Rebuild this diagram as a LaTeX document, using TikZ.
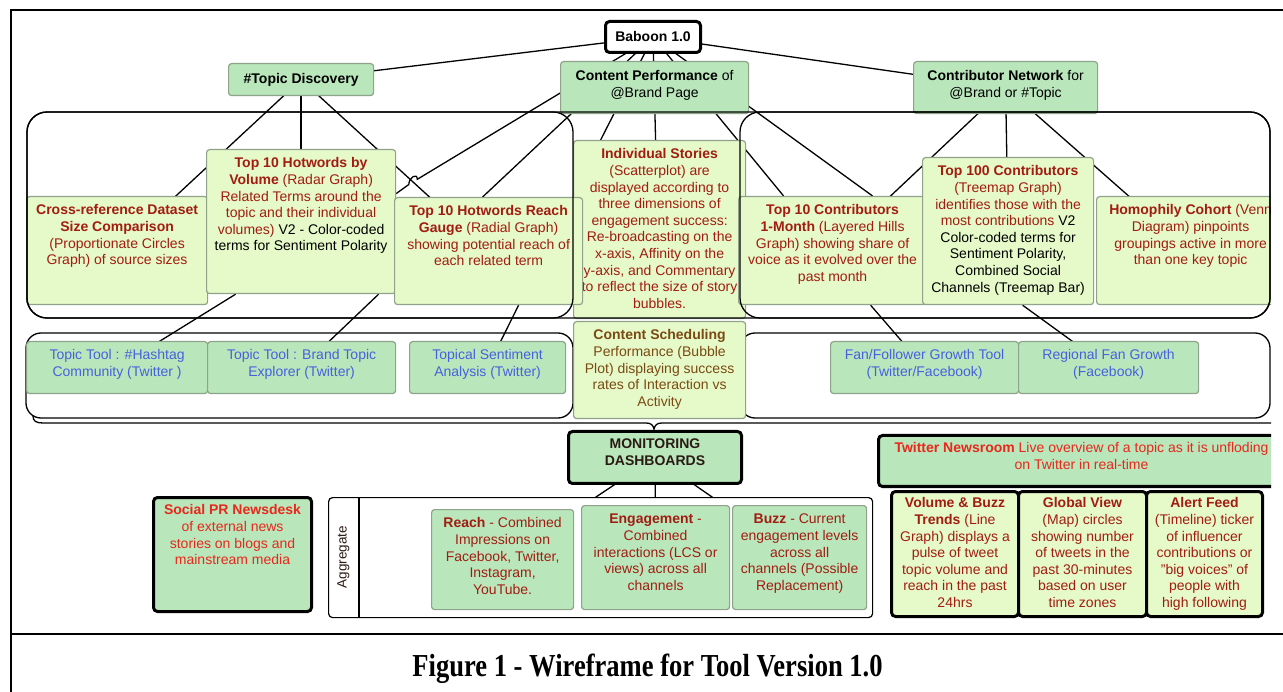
\documentclass[tikz,border=0pt]{standalone}
\usepackage{fontspec}
\setmainfont{Liberation Sans}
\newfontfamily\capfont{Liberation Serif}
\usepackage{graphicx}
\definecolor{dred}{HTML}{A11D12}
\definecolor{bred}{HTML}{E8281C}
\definecolor{tblue}{HTML}{4661DE}
\definecolor{brn}{HTML}{7A4A12}
\definecolor{mgreen}{HTML}{B9E6BB}
\definecolor{lgreen}{HTML}{E6F9C9}
\definecolor{bgray}{HTML}{8FA38A}
\definecolor{mdark}{HTML}{2A1A14}
\pgfdeclarelayer{behind}
\pgfdeclarelayer{front}
\pgfsetlayers{behind,main,front}
\tikzset{
  conn/.style={draw=black, line width=1.3pt},
  gbox/.style={draw=bgray, fill=mgreen, line width=1.2pt, rounded corners=3pt, inner sep=0pt, anchor=north west},
  lbox/.style={draw=bgray, fill=lgreen, line width=1.2pt, rounded corners=3pt, inner sep=0pt, anchor=north west},
  kbox/.style={draw=black, line width=3pt, rounded corners=4pt, inner sep=0pt, anchor=north west},
  aggbox/.style={draw=black, fill=white, line width=1.2pt, rounded corners=4pt, inner sep=0pt, anchor=north west},
  txt/.style={align=center, inner sep=0pt, anchor=north, font=\fontsize{14}{16.6}\selectfont},
  ctxt/.style={align=center, inner sep=0pt, font=\fontsize{14}{16.6}\selectfont},
  groupline/.style={draw=black, line width=1.3pt, rounded corners=20pt},
  groupline2/.style={draw=black, line width=1.3pt, rounded corners=15pt},
  braceline/.style={draw=black, line width=1.3pt},
  frameline/.style={draw=black, line width=2pt},
}
\newcommand\boxat[6]{\node[#1, minimum width={#5pt-#3pt}, minimum height={#6pt-#4pt}] (#2) at (#3,#4) {};}
\begin{document}
\begin{tikzpicture}[x=1pt,y=-1pt]
\useasboundingbox (0,0) rectangle (1283,692);
\begin{scope}
\clip (0,0) rectangle (1271,692);
% ---------- row 0
\boxat{kbox,fill=white}{baboon}{604}{20}{699}{51}
\node[ctxt,font=\fontsize{14}{16.6}\selectfont\bfseries] (baboonT) at (baboon.center) {Baboon 1.0};
\boxat{gbox}{td}{228}{63}{373}{95}
\node[ctxt] (tdT) at (td.center) {\textbf{\#Topic Discovery}};
% ---------- row 1
\boxat{lbox}{cross}{26}{196}{207}{304}
\node[txt,text=dred] (crossT) at ([yshift=-7pt]cross.north) {\strut\textbf{Cross-reference Dataset}\\\textbf{Size Comparison}\\(Proportionate Circles\\Graph) of source sizes};
\boxat{lbox}{vol}{206}{149}{395}{293}
\node[txt,text=dred] (volT) at ([yshift=-7pt]vol.north) {\strut\textbf{Top 10 Hotwords by}\\\textbf{Volume} (Radar Graph)\\Related Terms around the\\topic and their individual\\volumes) \textcolor{black}{V2 - Color-coded}\\\textcolor{black}{terms for Sentiment Polarity}};
\boxat{lbox}{stories}{573}{140}{745}{318}
\node[txt,text=dred] (storiesT) at ([yshift=-7pt]stories.north) {\strut\textbf{Individual Stories}\\(Scatterplot) are\\displayed according to\\three dimensions of\\engagement success:\\Re-broadcasting on the\\x-axis, Affinity on the\\y-axis, and Commentary\\to reflect the size of story\\bubbles.};
\boxat{lbox}{reach}{394}{197}{582}{304}
\node[txt,text=dred] (reachT) at ([yshift=-7pt]reach.north) {\strut\textbf{Top 10 Hotwords Reach}\\\textbf{Gauge} (Radial Graph)\\showing potential reach of\\each related term};
\boxat{lbox}{t10c}{738}{196}{926}{304}
\node[txt,text=dred] (t10cT) at ([yshift=-7pt]t10c.north) {\strut\textbf{Top 10 Contributors}\\\textbf{1-Month} (Layered Hills\\Graph) showing share of\\voice as it evolved over the\\past month};
\boxat{lbox}{t100}{922}{157}{1093}{304}
\node[txt,text=dred] (t100T) at ([yshift=-7pt]t100.north) {\strut\textbf{Top 100 Contributors}\\(Treemap Graph)\\identifies those with the\\most contributions \textcolor{black}{V2}\\\textcolor{black}{Color-coded terms for}\\\textcolor{black}{Sentiment Polarity,}\\\textcolor{black}{Combined Social}\\\textcolor{black}{Channels (Treemap Bar)}};
\boxat{lbox}{homo}{1096}{196}{1284}{304}
\node[txt,text=dred] (homoT) at ([yshift=-7pt]homo.north) {\strut\textbf{Homophily Cohort} (Venn\\Diagram) pinpoints\\groupings active in more\\than one key topic};
% ---------- content performance and contributor network (over the connectors)
\boxat{gbox}{cp}{560}{61}{748}{113}
\node[ctxt] (cpT) at ([yshift=2pt]cp.center) {\textbf{Content Performance} of\\@Brand Page};
\boxat{gbox}{cn}{913}{61}{1097}{113}
\node[ctxt] (cnT) at ([yshift=2pt]cn.center) {\textbf{Contributor Network} for\\@Brand or \#Topic};
% ---------- row 2
\boxat{gbox}{hashtag}{26}{341}{207}{393}
\node[txt,text=tblue] (hashtagT) at ([yshift=-7pt]hashtag.north) {\strut Topic Tool : \#Hashtag\\Community (Twitter )};
\boxat{gbox}{brand}{207}{341}{395}{393}
\node[txt,text=tblue] (brandT) at ([yshift=-7pt]brand.north) {\strut Topic Tool : Brand Topic\\Explorer (Twitter)};
\boxat{gbox}{topical}{409}{341}{565}{393}
\node[txt,text=tblue] (topicalT) at ([yshift=-7pt]topical.north) {\strut Topical Sentiment\\Analysis (Twitter)};
\boxat{lbox}{cs}{573}{321}{745}{418}
\node[txt,text=brn] (csT) at ([yshift=-7pt]cs.north) {\strut\textbf{Content Scheduling}\\Performance (Bubble\\Plot) displaying success\\rates of Interaction vs\\Activity};
\boxat{gbox}{fan}{830}{341}{1018}{393}
\node[txt,text=tblue] (fanT) at ([yshift=-7pt]fan.north) {\strut Fan/Follower Growth Tool\\(Twitter/Facebook)};
\boxat{gbox}{regional}{1018}{341}{1198}{393}
\node[txt,text=tblue] (regionalT) at ([yshift=-7pt]regional.north) {\strut Regional Fan Growth\\(Facebook)};
% ---------- bottom
\boxat{kbox,fill=mgreen}{mon}{567}{430}{740}{482}
\node[txt,text=mdark] (monT) at ([yshift=-7pt]mon.north) {\strut\textbf{MONITORING}\\\textbf{DASHBOARDS}};
\boxat{kbox,fill=mgreen}{social}{152}{496}{310}{610}
\node[txt,text=bred] (socialT) at ([yshift=-7pt]social.north) {\strut\textbf{Social PR Newsdesk}\\of external news\\stories on blogs and\\mainstream media};
\boxat{aggbox}{agg}{328}{497}{872}{617}
\draw[line width=1.2pt] ([xshift=31pt]agg.north west) -- ([xshift=31pt]agg.south west);
\node[rotate=90, inner sep=0pt, font=\fontsize{13.5}{16}\selectfont, text=mdark] (aggT) at (343.5,557) {Aggregate};
\boxat{gbox}{reachb}{431}{509}{573}{609}
\node[txt,text=dred] (reachbT) at ([yshift=-7pt]reachb.north) {\strut\textbf{Reach} - Combined\\Impressions on\\Facebook, Twitter,\\Instagram,\\YouTube.};
\boxat{gbox}{eng}{581}{505}{729}{609}
\node[txt,text=dred] (engT) at ([yshift=-7pt]eng.north) {\strut\textbf{Engagement} -\\Combined\\interactions (LCS or\\views) across all\\channels};
\boxat{gbox}{buzz}{732}{505}{866}{609}
\node[txt,text=dred] (buzzT) at ([yshift=-7pt]buzz.north) {\strut\textbf{Buzz} - Current\\engagement levels\\across all\\channels (Possible\\Replacement)};
\boxat{kbox,fill=mgreen}{tn}{877}{434}{1283}{485}
\node[txt,text=bred] (tnT) at ([yshift=-7pt]tn.north) {\strut\textbf{Twitter Newsroom} Live overview of a topic as it is unfloding\\on Twitter in real-time};
\boxat{kbox,fill=lgreen}{vb}{890}{490}{1017}{615}
\node[txt,text=dred] (vbT) at ([yshift=-6pt]vb.north) {\strut\textbf{Volume \& Buzz}\\\textbf{Trends} (Line\\Graph) displays a\\pulse of tweet\\topic volume and\\reach in the past\\24hrs};
\boxat{kbox,fill=lgreen}{gv}{1017}{490}{1145}{615}
\node[txt,text=dred] (gvT) at ([yshift=-6pt]gv.north) {\strut\textbf{Global View}\\(Map) circles\\showing number\\of tweets in the\\past 30-minutes\\based on user\\time zones};
\boxat{kbox,fill=lgreen}{af}{1145}{490}{1261}{615}
\node[txt,text=dred] (afT) at ([yshift=-6pt]af.north) {\strut\textbf{Alert Feed}\\(Timeline) ticker\\of influencer\\contributions or\\"big voices" of\\people with\\high following};
\end{scope}
% ---------- connectors and lower group outlines (behind the boxes)
\begin{pgfonlayer}{behind}
\begin{scope}
\clip (0,0) rectangle (1271,692);
\coordinate (hopA) at (417.3,179.3);
\coordinate (hopB) at (408.8,184.5);
\draw[conn] (baboon.center) -- (td.center);
\draw[conn] (baboon.center) -- (cn.center);
\draw[conn] (baboon.center) -- (hopA) .. controls (417.3,172.3) and (408.8,177.5) .. (hopB) -- ([yshift=28pt]vol.east);
\draw[conn] (baboon.center) -- ([xshift=-6pt]reach.north);
\draw[conn] (baboon.center) -- ([xshift=-59pt]stories.north);
\draw[conn] (baboon.center) -- ([xshift=-4pt]stories.north);
\draw[conn] (baboon.center) -- ([xshift=-49pt]t10c.north);
\draw[conn] (baboon.center) -- ([xshift=40pt]t10c.north);
\draw[conn] (td.center) -- (cross.center);
\draw[conn] (td.center) -- (vol.center);
\draw[conn] (td.center) -- (reach.center);
\draw[conn] (cn.center) -- (t10c.center);
\draw[conn] (cn.center) -- (t100.center);
\draw[conn] (cn.center) -- (homo.center);
\draw[conn] ([xshift=-65.5pt]vol.south) -- (hashtag.center);
\draw[conn] ([xshift=77.5pt]vol.south) -- (brand.center);
\draw[conn] ([xshift=30pt]reach.south) -- (topical.center);
\draw[conn] ([xshift=38pt]t10c.south) -- (fan.center);
\draw[conn] ([xshift=14.5pt]t100.south) -- (regional.center);
\draw[conn] (mon.center) -- (reachb.center);
\draw[conn] (mon.center) -- (eng.center);
\draw[conn] (mon.center) -- (buzz.center);
% lower group outlines
\draw[groupline2] (26,333) rectangle (573,418);
\draw[groupline2] (740,333) rectangle (1270,418);
\draw[braceline] (33,416) .. controls (33,421) and (36,423) .. (43,423) -- (646,423) .. controls (651,423) and (653,425) .. (654,429) .. controls (655,425) and (657,423) .. (662,423) -- (1275,423);
\end{scope}
\end{pgfonlayer}
% ---------- upper group outlines (over the boxes)
\begin{pgfonlayer}{front}
\begin{scope}
\clip (0,0) rectangle (1271,692);
\draw[groupline] (27,112) rectangle (1270,318);
\draw[groupline] (27,112) rectangle (573,318);
\draw[groupline] (740,112) rectangle (1270,318);
\end{scope}
\end{pgfonlayer}
% ---------- frame and caption
\draw[frameline] (11,692) -- (11,10) -- (1283,10);
\draw[frameline] (11,634) -- (1283,634);
\node[anchor=base, inner sep=0pt, font=\capfont\fontsize{32}{36}\selectfont\bfseries] (caption) at (647.5,676) {\scalebox{0.83}[1]{Figure 1 - Wireframe for Tool Version 1.0}};
\end{tikzpicture}
\end{document}
